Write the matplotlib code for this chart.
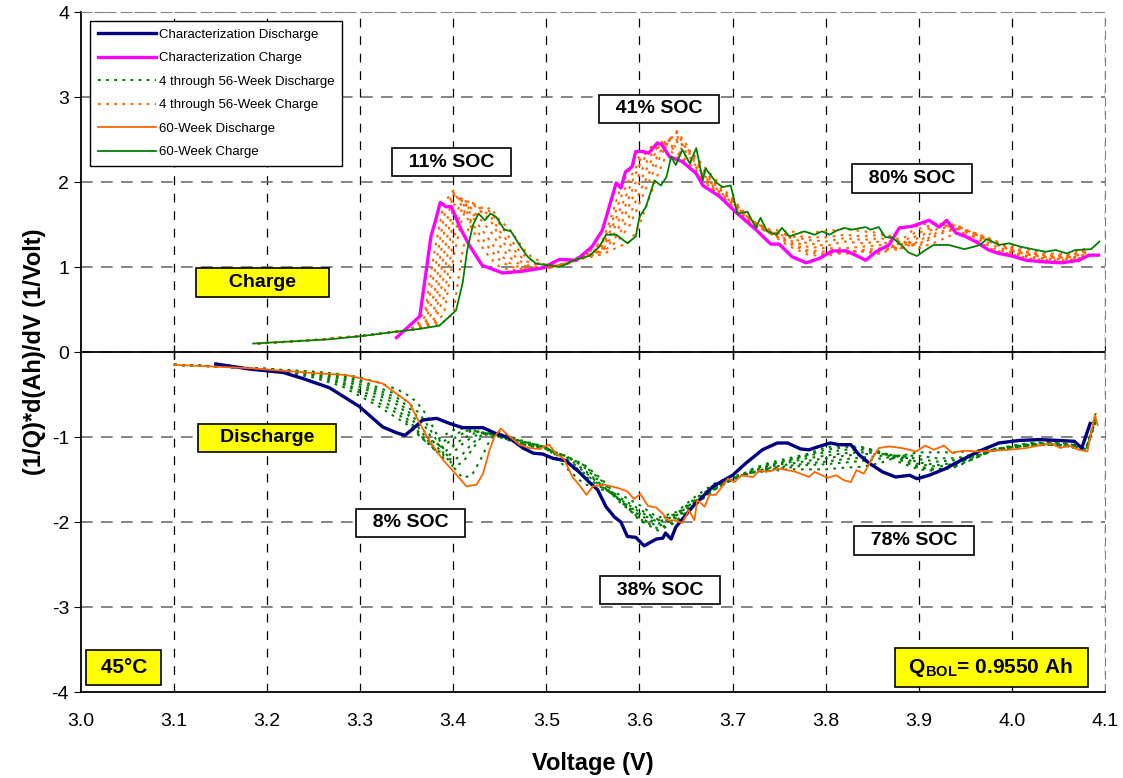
import numpy as np
import matplotlib
matplotlib.use("Agg")
import matplotlib.pyplot as plt

plt.rcParams['font.family'] = ['Liberation Sans', 'DejaVu Sans']
plt.rcParams['mathtext.fontset'] = 'custom'
plt.rcParams['mathtext.rm'] = 'Liberation Sans'
plt.rcParams['mathtext.bf'] = 'Liberation Sans:bold'
plt.rcParams['axes.unicode_minus'] = False

# ---- characterization charge (magenta)
char_chg_v = [3.339, 3.364, 3.371, 3.376, 3.381, 3.386, 3.392, 3.398, 3.407, 3.417, 3.431, 3.453,
              3.474, 3.496, 3.514, 3.532, 3.549, 3.560, 3.575, 3.580, 3.585, 3.592, 3.596, 3.603,
              3.610, 3.619, 3.624, 3.632, 3.646, 3.661, 3.668, 3.686, 3.703, 3.725, 3.741, 3.750,
              3.764, 3.779, 3.793, 3.807, 3.822, 3.832, 3.843, 3.854, 3.868, 3.879, 3.893, 3.911,
              3.922, 3.930, 3.940, 3.950, 3.961, 3.975, 3.986, 4.000, 4.015, 4.036, 4.054, 4.072,
              4.083, 4.093]
char_chg_y = [0.17, 0.42, 0.96, 1.36, 1.55, 1.76, 1.71, 1.71, 1.47, 1.26, 1.02, 0.93,
              0.95, 0.99, 1.09, 1.08, 1.24, 1.43, 1.99, 1.93, 2.12, 2.18, 2.36, 2.36,
              2.34, 2.46, 2.44, 2.30, 2.24, 2.10, 1.96, 1.83, 1.65, 1.44, 1.27, 1.27,
              1.12, 1.05, 1.10, 1.19, 1.19, 1.14, 1.08, 1.18, 1.26, 1.46, 1.48, 1.55,
              1.47, 1.55, 1.40, 1.36, 1.30, 1.20, 1.16, 1.13, 1.08, 1.06, 1.05, 1.08,
              1.14, 1.14]

# ---- 60-week charge (green)
wk60_chg_v = [3.185, 3.267, 3.303, 3.339, 3.362, 3.385, 3.403, 3.410, 3.415, 3.421, 3.427, 3.434,
              3.440, 3.446, 3.455, 3.462, 3.471, 3.480, 3.489, 3.503, 3.514, 3.532, 3.546, 3.557,
              3.564, 3.575, 3.587, 3.596, 3.600, 3.607, 3.616, 3.623, 3.629, 3.634, 3.639, 3.646,
              3.654, 3.661, 3.668, 3.671, 3.682, 3.689, 3.698, 3.705, 3.716, 3.725, 3.730, 3.737,
              3.747, 3.753, 3.761, 3.777, 3.788, 3.796, 3.804, 3.812, 3.820, 3.828, 3.843, 3.848,
              3.857, 3.864, 3.871, 3.881, 3.889, 3.898, 3.907, 3.916, 3.932, 3.949, 3.966, 3.973,
              3.986, 3.997, 4.009, 4.022, 4.036, 4.047, 4.059, 4.068, 4.085, 4.094]
wk60_chg_y = [0.10, 0.15, 0.19, 0.24, 0.27, 0.31, 0.49, 0.81, 1.20, 1.49, 1.63, 1.55,
              1.63, 1.59, 1.44, 1.42, 1.26, 1.12, 1.04, 1.02, 1.00, 1.09, 1.13, 1.24,
              1.38, 1.38, 1.28, 1.36, 1.59, 1.71, 2.02, 1.96, 2.06, 2.30, 2.20, 2.38,
              2.22, 2.40, 2.02, 2.16, 2.00, 1.94, 1.96, 1.63, 1.65, 1.46, 1.58, 1.42,
              1.38, 1.46, 1.36, 1.42, 1.38, 1.42, 1.38, 1.43, 1.46, 1.44, 1.47, 1.44,
              1.47, 1.35, 1.35, 1.26, 1.17, 1.13, 1.20, 1.26, 1.26, 1.21, 1.26, 1.33,
              1.26, 1.28, 1.24, 1.21, 1.18, 1.20, 1.16, 1.20, 1.21, 1.30]

# ---- 4 through 56-week charge (orange dotted), read on a common voltage grid
mid_chg_v = [3.19, 3.25, 3.30, 3.34, 3.36, 3.37, 3.38, 3.39, 3.40, 3.41, 3.42, 3.43, 3.44,
             3.45, 3.46, 3.47, 3.48, 3.50, 3.52, 3.54, 3.56, 3.57, 3.58, 3.59, 3.60, 3.61,
             3.62, 3.63, 3.64, 3.65, 3.66, 3.68, 3.70, 3.72, 3.74, 3.76, 3.78, 3.80, 3.82,
             3.84, 3.86, 3.88, 3.90, 3.92, 3.94, 3.96, 3.98, 4.00, 4.02, 4.04, 4.06, 4.08]
mid_chg_y = [
    [0.10, 0.14, 0.19, 0.24, 0.30, 0.50, 1.20, 1.75, 1.90, 1.70, 1.45, 1.25, 1.10,
     1.00, 0.97, 0.96, 0.97, 1.00, 1.04, 1.15, 1.30, 1.60, 1.95, 2.15, 2.30, 2.40,
     2.45, 2.40, 2.30, 2.20, 2.10, 1.90, 1.70, 1.50, 1.40, 1.25, 1.15, 1.12, 1.20,
     1.18, 1.15, 1.30, 1.50, 1.52, 1.45, 1.32, 1.20, 1.15, 1.10, 1.08, 1.08, 1.12],
    [0.10, 0.14, 0.19, 0.24, 0.29, 0.42, 0.95, 1.60, 1.88, 1.76, 1.52, 1.35, 1.20,
     1.08, 1.01, 0.98, 0.98, 1.00, 1.04, 1.14, 1.28, 1.52, 1.82, 2.05, 2.25, 2.38,
     2.45, 2.45, 2.35, 2.22, 2.12, 1.91, 1.71, 1.51, 1.40, 1.28, 1.18, 1.15, 1.18,
     1.19, 1.18, 1.25, 1.45, 1.51, 1.48, 1.35, 1.22, 1.16, 1.11, 1.09, 1.09, 1.13],
    [0.10, 0.14, 0.19, 0.24, 0.28, 0.35, 0.70, 1.40, 1.85, 1.80, 1.60, 1.45, 1.30,
     1.15, 1.05, 1.00, 0.98, 0.99, 1.04, 1.13, 1.25, 1.45, 1.70, 1.95, 2.20, 2.35,
     2.45, 2.50, 2.40, 2.25, 2.15, 1.92, 1.72, 1.52, 1.40, 1.30, 1.20, 1.18, 1.15,
     1.20, 1.22, 1.20, 1.40, 1.50, 1.50, 1.38, 1.25, 1.18, 1.12, 1.10, 1.10, 1.15],
    [0.10, 0.14, 0.19, 0.24, 0.27, 0.32, 0.52, 1.15, 1.72, 1.82, 1.68, 1.55, 1.42,
     1.25, 1.12, 1.04, 1.00, 0.98, 1.03, 1.12, 1.22, 1.40, 1.60, 1.85, 2.10, 2.28,
     2.42, 2.50, 2.48, 2.30, 2.18, 1.94, 1.74, 1.54, 1.41, 1.32, 1.24, 1.22, 1.22,
     1.24, 1.26, 1.21, 1.35, 1.48, 1.49, 1.39, 1.28, 1.19, 1.14, 1.11, 1.11, 1.16],
    [0.10, 0.14, 0.19, 0.24, 0.27, 0.30, 0.40, 0.90, 1.55, 1.80, 1.75, 1.65, 1.55,
     1.35, 1.20, 1.08, 1.02, 0.98, 1.03, 1.12, 1.20, 1.35, 1.50, 1.75, 2.00, 2.20,
     2.40, 2.50, 2.55, 2.35, 2.20, 1.95, 1.75, 1.55, 1.42, 1.35, 1.28, 1.25, 1.30,
     1.28, 1.30, 1.22, 1.30, 1.45, 1.48, 1.40, 1.30, 1.20, 1.15, 1.12, 1.12, 1.18],
    [0.10, 0.14, 0.19, 0.24, 0.27, 0.29, 0.36, 0.65, 1.32, 1.72, 1.76, 1.68, 1.60,
     1.42, 1.28, 1.14, 1.06, 0.99, 1.03, 1.11, 1.19, 1.30, 1.42, 1.62, 1.88, 2.10,
     2.32, 2.48, 2.58, 2.40, 2.22, 1.98, 1.77, 1.55, 1.42, 1.37, 1.32, 1.30, 1.34,
     1.32, 1.34, 1.26, 1.27, 1.41, 1.46, 1.40, 1.31, 1.21, 1.16, 1.13, 1.12, 1.19],
    [0.10, 0.14, 0.19, 0.24, 0.27, 0.29, 0.33, 0.45, 1.10, 1.60, 1.75, 1.70, 1.65,
     1.50, 1.35, 1.20, 1.10, 1.00, 1.03, 1.11, 1.18, 1.25, 1.35, 1.50, 1.75, 2.00,
     2.25, 2.45, 2.60, 2.45, 2.25, 2.00, 1.78, 1.55, 1.42, 1.38, 1.35, 1.35, 1.38,
     1.36, 1.38, 1.30, 1.25, 1.38, 1.45, 1.40, 1.32, 1.22, 1.17, 1.14, 1.13, 1.20],
    [0.10, 0.14, 0.19, 0.24, 0.27, 0.29, 0.31, 0.36, 0.45, 1.20, 1.60, 1.65, 1.70,
     1.55, 1.45, 1.30, 1.15, 1.02, 1.03, 1.10, 1.15, 1.20, 1.25, 1.30, 1.50, 1.80,
     2.10, 2.35, 2.50, 2.40, 2.30, 2.05, 1.80, 1.55, 1.44, 1.42, 1.40, 1.42, 1.45,
     1.42, 1.40, 1.32, 1.22, 1.30, 1.40, 1.36, 1.30, 1.25, 1.20, 1.16, 1.15, 1.22],
]

# ---- characterization discharge (navy)
char_dis_v = [3.145, 3.181, 3.217, 3.238, 3.267, 3.299, 3.324, 3.339, 3.348, 3.357, 3.367, 3.382,
              3.396, 3.410, 3.432, 3.446, 3.460, 3.475, 3.486, 3.496, 3.507, 3.521, 3.535, 3.546,
              3.555, 3.564, 3.573, 3.580, 3.587, 3.596, 3.605, 3.618, 3.625, 3.628, 3.634, 3.639,
              3.657, 3.679, 3.700, 3.714, 3.732, 3.748, 3.759, 3.773, 3.782, 3.793, 3.805, 3.814,
              3.827, 3.836, 3.847, 3.861, 3.875, 3.890, 3.898, 3.911, 3.929, 3.946, 3.964, 3.986,
              4.008, 4.029, 4.050, 4.067, 4.075, 4.084]
char_dis_y = [-0.14, -0.20, -0.24, -0.31, -0.42, -0.64, -0.88, -0.95, -0.98, -0.90, -0.80, -0.78,
              -0.84, -0.89, -0.89, -0.96, -1.01, -1.13, -1.19, -1.20, -1.25, -1.28, -1.41, -1.53,
              -1.62, -1.82, -1.94, -2.00, -2.17, -2.18, -2.28, -2.20, -2.19, -2.13, -2.20, -2.06,
              -1.82, -1.58, -1.45, -1.31, -1.15, -1.07, -1.07, -1.14, -1.15, -1.11, -1.07, -1.09,
              -1.09, -1.21, -1.31, -1.41, -1.47, -1.45, -1.49, -1.45, -1.37, -1.27, -1.17, -1.07,
              -1.04, -1.03, -1.04, -1.05, -1.13, -0.84]

# ---- 60-week discharge (orange)
wk60_dis_v = [3.100, 3.181, 3.217, 3.253, 3.285, 3.324, 3.353, 3.364, 3.374, 3.389, 3.399, 3.407,
              3.414, 3.425, 3.432, 3.439, 3.444, 3.451, 3.460, 3.471, 3.482, 3.492, 3.503, 3.510,
              3.519, 3.528, 3.535, 3.543, 3.550, 3.562, 3.577, 3.587, 3.594, 3.601, 3.609, 3.618,
              3.625, 3.630, 3.637, 3.646, 3.653, 3.659, 3.662, 3.670, 3.675, 3.682, 3.695, 3.702,
              3.709, 3.722, 3.729, 3.736, 3.750, 3.768, 3.782, 3.788, 3.802, 3.811, 3.820, 3.827,
              3.833, 3.841, 3.848, 3.857, 3.868, 3.882, 3.897, 3.907, 3.916, 3.927, 3.936, 3.943,
              3.950, 3.961, 3.979, 3.997, 4.015, 4.033, 4.043, 4.052, 4.061, 4.072, 4.081, 4.089,
              4.092]
wk60_dis_y = [-0.15, -0.19, -0.22, -0.25, -0.27, -0.37, -0.60, -0.84, -1.04, -1.27, -1.39, -1.49,
              -1.58, -1.56, -1.43, -1.15, -1.00, -0.90, -0.99, -1.09, -1.13, -1.14, -1.09, -1.19,
              -1.26, -1.47, -1.56, -1.68, -1.58, -1.56, -1.60, -1.64, -1.73, -1.67, -1.81, -1.83,
              -1.90, -1.98, -1.98, -2.01, -1.86, -1.98, -1.74, -1.82, -1.68, -1.68, -1.49, -1.53,
              -1.45, -1.47, -1.39, -1.41, -1.37, -1.41, -1.47, -1.41, -1.48, -1.45, -1.51, -1.53,
              -1.39, -1.43, -1.29, -1.13, -1.11, -1.13, -1.17, -1.10, -1.15, -1.10, -1.19, -1.17,
              -1.16, -1.17, -1.16, -1.15, -1.13, -1.09, -1.08, -1.13, -1.10, -1.15, -1.17, -0.74,
              -0.86]

# ---- 4 through 56-week discharge (green dotted), common voltage grid
mid_dis_v = [3.10, 3.15, 3.20, 3.25, 3.28, 3.30, 3.32, 3.34, 3.35, 3.36, 3.37, 3.38, 3.39,
             3.40, 3.41, 3.42, 3.43, 3.44, 3.45, 3.47, 3.50, 3.52, 3.54, 3.56, 3.58, 3.60,
             3.62, 3.64, 3.66, 3.68, 3.70, 3.72, 3.74, 3.76, 3.78, 3.80, 3.82, 3.84, 3.86,
             3.88, 3.90, 3.92, 3.94, 3.96, 3.98, 4.00, 4.02, 4.04, 4.06, 4.08, 4.09]
mid_dis_y = [
    [-0.15, -0.17, -0.20, -0.30, -0.40, -0.52, -0.64, -0.78, -0.85, -0.95, -1.05, -1.05, -0.98,
     -0.92, -0.90, -0.92, -0.95, -0.98, -1.00, -1.08, -1.15, -1.22, -1.32, -1.50, -1.75, -1.98,
     -2.10, -2.00, -1.80, -1.62, -1.50, -1.38, -1.30, -1.25, -1.20, -1.12, -1.10, -1.12, -1.18,
     -1.30, -1.38, -1.40, -1.35, -1.25, -1.15, -1.10, -1.07, -1.06, -1.08, -1.12, -0.80],
    [-0.15, -0.17, -0.20, -0.28, -0.37, -0.48, -0.60, -0.72, -0.82, -0.93, -1.05, -1.10, -1.05,
     -0.98, -0.93, -0.92, -0.94, -0.97, -1.00, -1.07, -1.14, -1.22, -1.33, -1.52, -1.76, -1.96,
     -2.08, -1.98, -1.79, -1.62, -1.50, -1.39, -1.32, -1.27, -1.21, -1.15, -1.12, -1.13, -1.18,
     -1.27, -1.36, -1.39, -1.34, -1.25, -1.15, -1.11, -1.08, -1.07, -1.08, -1.12, -0.79],
    [-0.15, -0.17, -0.20, -0.27, -0.35, -0.45, -0.55, -0.68, -0.78, -0.90, -1.05, -1.15, -1.10,
     -1.02, -0.96, -0.93, -0.94, -0.97, -1.00, -1.07, -1.14, -1.22, -1.35, -1.55, -1.78, -1.95,
     -2.05, -1.95, -1.78, -1.62, -1.50, -1.40, -1.33, -1.28, -1.22, -1.18, -1.15, -1.15, -1.18,
     -1.25, -1.35, -1.38, -1.33, -1.25, -1.16, -1.12, -1.08, -1.07, -1.09, -1.13, -0.78],
    [-0.15, -0.17, -0.20, -0.26, -0.32, -0.41, -0.51, -0.62, -0.72, -0.85, -1.00, -1.16, -1.18,
     -1.10, -1.02, -0.96, -0.95, -0.96, -0.99, -1.06, -1.13, -1.23, -1.38, -1.57, -1.76, -1.92,
     -2.02, -1.93, -1.76, -1.61, -1.50, -1.41, -1.35, -1.30, -1.25, -1.22, -1.19, -1.18, -1.19,
     -1.23, -1.32, -1.35, -1.31, -1.23, -1.16, -1.12, -1.09, -1.08, -1.10, -1.14, -0.80],
    [-0.15, -0.17, -0.20, -0.25, -0.30, -0.38, -0.48, -0.58, -0.68, -0.80, -0.95, -1.15, -1.25,
     -1.18, -1.08, -1.00, -0.96, -0.96, -0.98, -1.05, -1.13, -1.25, -1.40, -1.58, -1.75, -1.90,
     -2.00, -1.92, -1.75, -1.60, -1.50, -1.42, -1.36, -1.32, -1.28, -1.25, -1.22, -1.20, -1.20,
     -1.22, -1.30, -1.33, -1.30, -1.22, -1.16, -1.12, -1.09, -1.08, -1.10, -1.15, -0.82],
    [-0.15, -0.17, -0.20, -0.24, -0.28, -0.35, -0.45, -0.54, -0.63, -0.74, -0.88, -1.08, -1.22,
     -1.28, -1.20, -1.08, -0.98, -0.95, -0.97, -1.04, -1.12, -1.28, -1.42, -1.59, -1.74, -1.88,
     -1.98, -1.91, -1.74, -1.59, -1.49, -1.42, -1.37, -1.34, -1.31, -1.29, -1.26, -1.24, -1.22,
     -1.22, -1.26, -1.29, -1.27, -1.21, -1.15, -1.12, -1.10, -1.09, -1.11, -1.15, -0.78],
    [-0.15, -0.17, -0.20, -0.24, -0.27, -0.33, -0.42, -0.50, -0.58, -0.68, -0.82, -1.00, -1.20,
     -1.35, -1.30, -1.15, -1.00, -0.95, -0.96, -1.04, -1.12, -1.30, -1.45, -1.60, -1.72, -1.85,
     -1.97, -1.90, -1.72, -1.58, -1.48, -1.42, -1.38, -1.36, -1.33, -1.32, -1.30, -1.28, -1.25,
     -1.22, -1.22, -1.25, -1.25, -1.20, -1.15, -1.12, -1.10, -1.09, -1.11, -1.15, -0.76],
    [-0.15, -0.17, -0.20, -0.23, -0.26, -0.30, -0.36, -0.44, -0.50, -0.58, -0.72, -0.92, -1.15,
     -1.35, -1.48, -1.45, -1.25, -1.02, -0.94, -1.03, -1.12, -1.35, -1.55, -1.62, -1.68, -1.80,
     -1.95, -1.88, -1.70, -1.55, -1.46, -1.42, -1.40, -1.38, -1.38, -1.38, -1.36, -1.35, -1.30,
     -1.22, -1.18, -1.18, -1.18, -1.16, -1.14, -1.12, -1.10, -1.09, -1.11, -1.16, -0.72],
]

xticks = [3.0, 3.1, 3.2, 3.3, 3.4, 3.5, 3.6, 3.7, 3.8, 3.9, 4.0, 4.1]
yticks = [-4, -3, -2, -1, 0, 1, 2, 3, 4]

navy = "#000080"
magenta = "#FF00FF"
green = "#008000"
orange = "#FF6600"

fig = plt.figure(figsize=(11.23, 7.78), dpi=100)
ax = fig.add_axes([0.072, 0.1105, 0.912, 0.874])

# gridlines
for x in xticks[1:]:
    ax.axvline(x, color="black", lw=0.9, ls=(0, (7, 7)), zorder=1)
for y in yticks[1:]:
    ax.axhline(y, color="#707070", lw=1.2, ls=(0, (7, 5)), zorder=1)
ax.axhline(0, color="black", lw=1.3, zorder=2)
ax.plot(xticks[1:], np.zeros(len(xticks) - 1), ls="none", marker="|", ms=10,
        mec="black", mew=1.0, zorder=2)

dot = (0, (1.3, 2.6))
for i, yy in enumerate(mid_dis_y):
    ax.plot(mid_dis_v, yy, color=green, lw=1.5, ls=dot, zorder=3,
            label="4 through 56-Week Discharge" if i == 0 else None)
for i, yy in enumerate(mid_chg_y):
    ax.plot(mid_chg_v, yy, color=orange, lw=1.5, ls=dot, zorder=3,
            label="4 through 56-Week Charge" if i == 0 else None)

ax.plot(char_dis_v, char_dis_y, color=navy, lw=2.4, zorder=4, label="Characterization Discharge")
ax.plot(char_chg_v, char_chg_y, color=magenta, lw=2.4, zorder=4, label="Characterization Charge")
ax.plot(wk60_dis_v, wk60_dis_y, color=orange, lw=1.3, zorder=5, label="60-Week Discharge")
ax.plot(wk60_chg_v, wk60_chg_y, color=green, lw=1.3, zorder=5, label="60-Week Charge")

ax.set_xlim(3.0, 4.1)
ax.set_ylim(-4, 4)
ax.set_xticks(xticks)
ax.set_xticklabels([f"{x:.1f}" for x in xticks])
ax.set_yticks(yticks)
ax.tick_params(axis="x", length=0, labelsize=14, pad=15)
ax.tick_params(axis="y", length=5, direction="out", labelsize=14)
for s in ["top", "right"]:
    ax.spines[s].set_color("#808080")
    ax.spines[s].set_linestyle((0, (7, 5)))
ax.spines["left"].set_linewidth(1.3)
ax.spines["bottom"].set_linewidth(1.3)

ax.set_xlabel("Voltage (V)", fontsize=17, fontweight="bold", labelpad=16)
ax.set_ylabel("(1/Q)*d(Ah)/dV (1/Volt)", fontsize=17, fontweight="bold", labelpad=4)

handles, labels = ax.get_legend_handles_labels()
order = ["Characterization Discharge", "Characterization Charge", "4 through 56-Week Discharge",
         "4 through 56-Week Charge", "60-Week Discharge", "60-Week Charge"]
hmap = dict(zip(labels, handles))
leg = ax.legend([hmap[k] for k in order], order, loc="upper left", bbox_to_anchor=(0.005, 0.993),
                fontsize=9.5, handlelength=4.4, labelspacing=0.85, handletextpad=0.2,
                borderpad=0.6, borderaxespad=0.3, fancybox=False, framealpha=1, edgecolor="black")
leg.get_frame().set_linewidth(1.0)

white_box = dict(boxstyle="square,pad=0.3", fc="white", ec="black", lw=1.2)
yellow_box = dict(boxstyle="square,pad=0.3", fc="yellow", ec="black", lw=1.2)
notes = [("11% SOC", 3.398, 2.235), ("41% SOC", 3.621, 2.86), ("80% SOC", 3.893, 2.04),
         ("8% SOC", 3.354, -2.01), ("38% SOC", 3.622, -2.80), ("78% SOC", 3.895, -2.22)]
for txt, x, y in notes:
    ax.text(x, y, "  " + txt + "  ", ha="center", va="center", fontsize=14, fontweight="bold",
            bbox=white_box, zorder=6)
ax.text(3.195, 0.82, "     Charge     ", ha="center", va="center", fontsize=14, fontweight="bold",
        bbox=yellow_box, zorder=6)
ax.text(3.200, -1.01, "   Discharge   ", ha="center", va="center", fontsize=14, fontweight="bold",
        bbox=yellow_box, zorder=6)
ax.text(3.046, -3.71, " 45°C ", ha="center", va="center", fontsize=15, fontweight="bold",
        bbox=dict(boxstyle="square,pad=0.4", fc="yellow", ec="black", lw=1.2), zorder=6)
ax.text(3.978, -3.71, r" $\mathbf{Q_{BOL}}$= 0.9550 Ah  ", ha="center", va="center", fontsize=15,
        fontweight="bold", bbox=dict(boxstyle="square,pad=0.4", fc="yellow", ec="black", lw=1.2),
        zorder=6)

fig.savefig("out.png", dpi=100)
